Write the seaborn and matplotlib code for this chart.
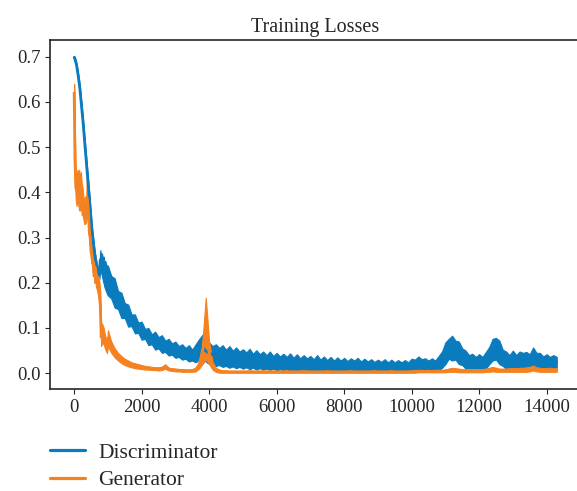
import numpy as np
import pandas as pd
import seaborn as sns
import matplotlib.pyplot as plt

# iterations: every 25 up to 1000, then every 100
iters_early = np.arange(0, 1000, 25)
iters_late = np.arange(1000, 14400, 100)

# noisy curves are stored as upper / lower edge of the band
disc_hi_early = [0.702, 0.698, 0.692, 0.684, 0.672, 0.660, 0.646, 0.630, 0.612, 0.592,
                 0.572, 0.552, 0.528, 0.506, 0.484, 0.462, 0.440, 0.418, 0.396, 0.372,
                 0.348, 0.326, 0.308, 0.292, 0.276, 0.262, 0.252, 0.240, 0.232, 0.228,
                 0.240, 0.272, 0.262, 0.265, 0.255, 0.258, 0.245, 0.248, 0.240, 0.238]
disc_lo_early = [0.695, 0.690, 0.684, 0.675, 0.663, 0.650, 0.636, 0.620, 0.600, 0.580,
                 0.560, 0.538, 0.514, 0.492, 0.470, 0.448, 0.425, 0.402, 0.380, 0.356,
                 0.332, 0.310, 0.292, 0.276, 0.260, 0.246, 0.234, 0.222, 0.212, 0.205,
                 0.210, 0.230, 0.222, 0.215, 0.205, 0.198, 0.190, 0.185, 0.180, 0.175]

disc_hi_late = [0.238, 0.215, 0.210, 0.182, 0.178, 0.155, 0.152, 0.130, 0.130, 0.112,   # 1000
                0.114, 0.098, 0.100, 0.086, 0.092, 0.080, 0.084, 0.072, 0.076, 0.066,   # 2000
                0.070, 0.060, 0.064, 0.056, 0.062, 0.052, 0.064, 0.075, 0.085, 0.072,   # 3000
                0.068, 0.060, 0.064, 0.056, 0.062, 0.052, 0.060, 0.050, 0.057, 0.048,   # 4000
                0.053, 0.046, 0.054, 0.043, 0.051, 0.042, 0.048, 0.040, 0.048, 0.038,   # 5000
                0.045, 0.037, 0.043, 0.036, 0.044, 0.034, 0.042, 0.033, 0.040, 0.033,   # 6000
                0.038, 0.031, 0.040, 0.030, 0.037, 0.029, 0.036, 0.028, 0.035, 0.028,   # 7000
                0.034, 0.027, 0.033, 0.028, 0.034, 0.026, 0.032, 0.026, 0.031, 0.025,   # 8000
                0.030, 0.025, 0.031, 0.024, 0.030, 0.024, 0.029, 0.024, 0.029, 0.024,   # 9000
                0.032, 0.030, 0.037, 0.031, 0.033, 0.028, 0.033, 0.028, 0.038, 0.048,   # 10000
                0.068, 0.076, 0.083, 0.072, 0.070, 0.055, 0.050, 0.040, 0.043, 0.036,   # 11000
                0.042, 0.036, 0.047, 0.058, 0.076, 0.078, 0.072, 0.052, 0.048, 0.040,   # 12000
                0.050, 0.040, 0.048, 0.045, 0.047, 0.042, 0.057, 0.045, 0.045, 0.037,   # 13000
                0.042, 0.036, 0.040, 0.036]                                             # 14000
disc_lo_late = [0.172, 0.165, 0.145, 0.142, 0.122, 0.122, 0.103, 0.104, 0.088, 0.089,
                0.074, 0.076, 0.062, 0.064, 0.052, 0.055, 0.045, 0.047, 0.039, 0.041,
                0.034, 0.036, 0.030, 0.032, 0.026, 0.028, 0.024, 0.030, 0.032, 0.026,
                0.020, 0.022, 0.016, 0.018, 0.014, 0.016, 0.012, 0.015, 0.011, 0.014,
                0.010, 0.013, 0.009, 0.012, 0.008, 0.011, 0.008, 0.010, 0.007, 0.010,
                0.006, 0.009, 0.006, 0.009, 0.005, 0.008, 0.005, 0.008, 0.005, 0.008,
                0.004, 0.007, 0.004, 0.007, 0.004, 0.007, 0.004, 0.007, 0.004, 0.007,
                0.004, 0.006, 0.003, 0.006, 0.003, 0.006, 0.003, 0.006, 0.003, 0.006,
                0.003, 0.006, 0.003, 0.006, 0.003, 0.006, 0.003, 0.006, 0.003, 0.006,
                0.005, 0.009, 0.007, 0.009, 0.005, 0.008, 0.005, 0.008, 0.006, 0.012,
                0.020, 0.032, 0.028, 0.030, 0.020, 0.018, 0.010, 0.012, 0.008, 0.011,
                0.008, 0.011, 0.010, 0.020, 0.028, 0.030, 0.020, 0.016, 0.010, 0.012,
                0.009, 0.012, 0.010, 0.013, 0.009, 0.013, 0.011, 0.013, 0.009, 0.012,
                0.009, 0.012, 0.009, 0.012]

gen_hi_early = [0.640, 0.520, 0.440, 0.440, 0.450, 0.440, 0.450, 0.430, 0.445, 0.420,
                0.410, 0.390, 0.385, 0.370, 0.370, 0.430, 0.420, 0.385, 0.330, 0.320,
                0.285, 0.280, 0.270, 0.272, 0.265, 0.262, 0.250, 0.245, 0.235, 0.215,
                0.200, 0.180, 0.100, 0.110, 0.105, 0.100, 0.090, 0.082, 0.070, 0.065]
gen_lo_early = [0.600, 0.420, 0.380, 0.370, 0.390, 0.370, 0.360, 0.360, 0.370, 0.350,
                0.350, 0.340, 0.330, 0.330, 0.335, 0.350, 0.340, 0.320, 0.290, 0.280,
                0.250, 0.240, 0.215, 0.220, 0.200, 0.205, 0.190, 0.185, 0.175, 0.165,
                0.150, 0.120, 0.060, 0.070, 0.065, 0.065, 0.058, 0.052, 0.048, 0.045]

gen_hi_late = [0.095, 0.070, 0.055, 0.045, 0.038, 0.032, 0.028, 0.024, 0.022, 0.020,   # 1000
               0.018, 0.016, 0.015, 0.014, 0.013, 0.013, 0.014, 0.020, 0.012, 0.011,   # 2000
               0.010, 0.009, 0.009, 0.008, 0.008, 0.009, 0.012, 0.025, 0.070, 0.167,   # 3000
               0.070, 0.025, 0.012, 0.008, 0.006, 0.006, 0.005, 0.005, 0.005, 0.005,   # 4000
               0.005, 0.005, 0.006, 0.005, 0.005, 0.005, 0.006, 0.005, 0.005, 0.005,   # 5000
               0.005, 0.005, 0.005, 0.006, 0.005, 0.005, 0.005, 0.005, 0.006, 0.005,   # 6000
               0.005, 0.005, 0.005, 0.005, 0.005, 0.006, 0.005, 0.005, 0.005, 0.005,   # 7000
               0.005, 0.005, 0.006, 0.005, 0.005, 0.005, 0.005, 0.005, 0.005, 0.006,   # 8000
               0.005, 0.005, 0.005, 0.005, 0.006, 0.005, 0.005, 0.005, 0.005, 0.005,   # 9000
               0.006, 0.006, 0.007, 0.006, 0.006, 0.007, 0.006, 0.007, 0.007, 0.007,   # 10000
               0.008, 0.010, 0.012, 0.011, 0.010, 0.009, 0.009, 0.009, 0.009, 0.009,   # 11000
               0.009, 0.009, 0.010, 0.012, 0.014, 0.012, 0.010, 0.010, 0.010, 0.011,   # 12000
               0.011, 0.011, 0.012, 0.012, 0.013, 0.014, 0.017, 0.013, 0.012, 0.011,   # 13000
               0.011, 0.012, 0.011, 0.011]                                             # 14000
gen_lo_late = [0.060, 0.045, 0.035, 0.028, 0.022, 0.018, 0.015, 0.013, 0.011, 0.010,
               0.009, 0.008, 0.008, 0.007, 0.007, 0.006, 0.007, 0.010, 0.006, 0.005,
               0.004, 0.004, 0.003, 0.003, 0.003, 0.003, 0.004, 0.010, 0.020, 0.030,
               0.020, 0.008, 0.003, 0.001, 0.001, 0.001, 0.001, 0.001, 0.001, 0.001,
               0.001, 0.001, 0.001, 0.001, 0.001, 0.001, 0.001, 0.001, 0.001, 0.001,
               0.001, 0.001, 0.001, 0.001, 0.001, 0.001, 0.001, 0.001, 0.001, 0.001,
               0.001, 0.001, 0.001, 0.001, 0.001, 0.001, 0.001, 0.001, 0.001, 0.001,
               0.001, 0.001, 0.001, 0.001, 0.001, 0.001, 0.001, 0.001, 0.001, 0.001,
               0.001, 0.001, 0.001, 0.001, 0.001, 0.001, 0.001, 0.001, 0.001, 0.001,
               0.001, 0.001, 0.002, 0.002, 0.002, 0.002, 0.002, 0.002, 0.002, 0.002,
               0.002, 0.003, 0.003, 0.003, 0.002, 0.002, 0.002, 0.002, 0.002, 0.002,
               0.002, 0.002, 0.003, 0.003, 0.004, 0.003, 0.003, 0.003, 0.003, 0.003,
               0.003, 0.003, 0.003, 0.003, 0.003, 0.004, 0.006, 0.004, 0.003, 0.003,
               0.003, 0.003, 0.003, 0.003]

iterations = np.concatenate([iters_early, iters_late])
parts = []
for name, hi, lo in [('Discriminator', disc_hi_early + disc_hi_late, disc_lo_early + disc_lo_late),
                     ('Generator', gen_hi_early + gen_hi_late, gen_lo_early + gen_lo_late)]:
    parts.append(pd.DataFrame({'iteration': iterations, 'loss': hi, 'model': name}))
    parts.append(pd.DataFrame({'iteration': iterations, 'loss': lo, 'model': name}))
df = pd.concat(parts, ignore_index=True)

sns.set_style('ticks')
plt.rcParams['font.family'] = ['Liberation Serif', 'DejaVu Serif']

fig = plt.figure(figsize=(5.77, 4.91), dpi=100)
ax = fig.add_axes([0.0867, 0.2077, 0.920, 0.7108])
# min-max band of the two edge values gives the noisy look of the raw losses
sns.lineplot(data=df, x='iteration', y='loss', hue='model',
             palette={'Discriminator': '#0a7bbd', 'Generator': '#f58220'},
             errorbar=('pi', 100), err_kws={'alpha': 1, 'linewidth': 0.8},
             linewidth=2, ax=ax)
ax.set_title('Training Losses', fontsize=14.5)
ax.set_xlabel('')
ax.set_ylabel('')
ax.set_xticks(range(0, 14001, 2000))
ax.set_ylim(-0.035, 0.737)
ax.tick_params(labelsize=13.5)
for s in ax.spines.values():
    s.set_linewidth(1.2)

handles, labels = ax.get_legend_handles_labels()
leg = ax.legend(handles, labels, loc='upper left', bbox_to_anchor=(0.072, 0.116),
                bbox_transform=fig.transFigure, frameon=False, fontsize=15.5,
                handlelength=1.63, handletextpad=0.6, labelspacing=0.35, borderaxespad=0)
for line in leg.get_lines():
    line.set_linewidth(2.3)

plt.savefig('out.png', dpi=100)
